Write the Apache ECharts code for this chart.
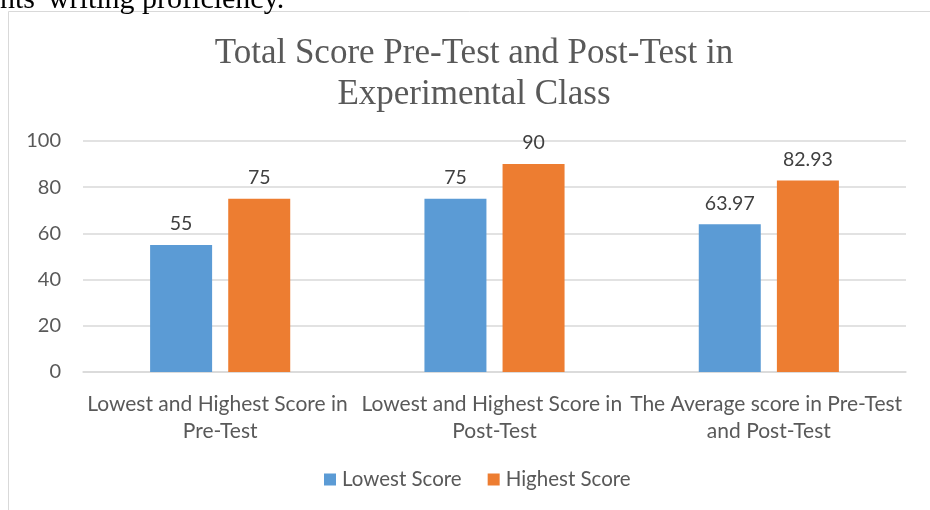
<!DOCTYPE html>
<html>
<head>
<meta charset="utf-8">
<script src="https://cdn.jsdelivr.net/npm/echarts@6/dist/echarts.min.js"></script>
<style>
html,body{margin:0;padding:0;background:#fff;}
#c{width:930px;height:510px;}
</style>
</head>
<body>
<div id="c"></div>
<script>
const categories = [
  "Lowest and Highest Score in Pre-Test",
  "Lowest and Highest Score in Post-Test",
  "The Average score in Pre-Test and Post-Test"
];
const seriesNames = ["Lowest Score", "Highest Score"];
const lowestScore = [55, 75, 63.97];
const highestScore = [75, 90, 82.93];
const yTicks = [0, 20, 40, 60, 80, 100];
const titleLines = ["Total Score Pre-Test and Post-Test in", "Experimental Class"];
const pageTextAbove = "nts' writing proficiency.";

const chart = echarts.init(document.getElementById('c'));
const labelFont = "Lato, 'Open Sans', sans-serif";
const barLabel = {
  show: true, position: 'top', distance: 11,
  color: '#404040', fontSize: 19.5, fontFamily: labelFont
};
chart.setOption({
  animation: false,
  backgroundColor: '#fff',
  color: ['#5b9bd5', '#ed7d31'],
  title: {
    text: titleLines.join('\n'),
    left: 469,
    textAlign: 'center',
    top: 28,
    textStyle: {
      fontFamily: "'Liberation Serif', 'Times New Roman', serif",
      fontWeight: 'normal',
      fontSize: 35,
      color: '#595959',
      lineHeight: 41
    }
  },
  graphic: [
    {
      type: 'rect',
      shape: { x: 8.5, y: 11.5, width: 940, height: 520 },
      style: { fill: 'none', stroke: '#d9d9d9', lineWidth: 1 },
      silent: true, z: -1
    },
    {
      type: 'text',
      x: 0, y: -15,
      style: {
        text: pageTextAbove,
        font: "30px 'Liberation Serif', 'Times New Roman', serif",
        fill: '#000',
        verticalAlign: 'top'
      },
      silent: true
    }
  ],
  legend: {
    data: seriesNames,
    top: 464,
    left: 319,
    itemWidth: 12,
    itemHeight: 12,
    itemGap: 26,
    icon: 'rect',
    textStyle: { fontSize: 20.5, color: '#595959', fontFamily: labelFont, padding: [0, 0, 0, 1] }
  },
  grid: { left: 83, right: 24, top: 141, bottom: 138, containLabel: false },
  xAxis: {
    type: 'category',
    data: categories,
    axisLine: { lineStyle: { color: '#d9d9d9', width: 1.5 } },
    axisTick: { show: false },
    axisLabel: {
      interval: 0,
      margin: 19,
      width: 290,
      overflow: 'break',
      fontSize: 21,
      lineHeight: 27,
      color: '#595959',
      fontFamily: labelFont
    }
  },
  yAxis: {
    type: 'value',
    min: yTicks[0],
    max: yTicks[yTicks.length - 1],
    interval: yTicks[1] - yTicks[0],
    axisLine: { show: false },
    axisTick: { show: false },
    splitLine: { lineStyle: { color: '#d9d9d9', width: 1.5 } },
    axisLabel: { fontSize: 20, color: '#595959', fontFamily: labelFont, margin: 22 }
  },
  series: [
    { name: seriesNames[0], type: 'bar', data: lowestScore, barWidth: 62, barGap: '26%', label: barLabel },
    { name: seriesNames[1], type: 'bar', data: highestScore, barWidth: 62, barGap: '26%', label: barLabel }
  ]
});
</script>
</body>
</html>
